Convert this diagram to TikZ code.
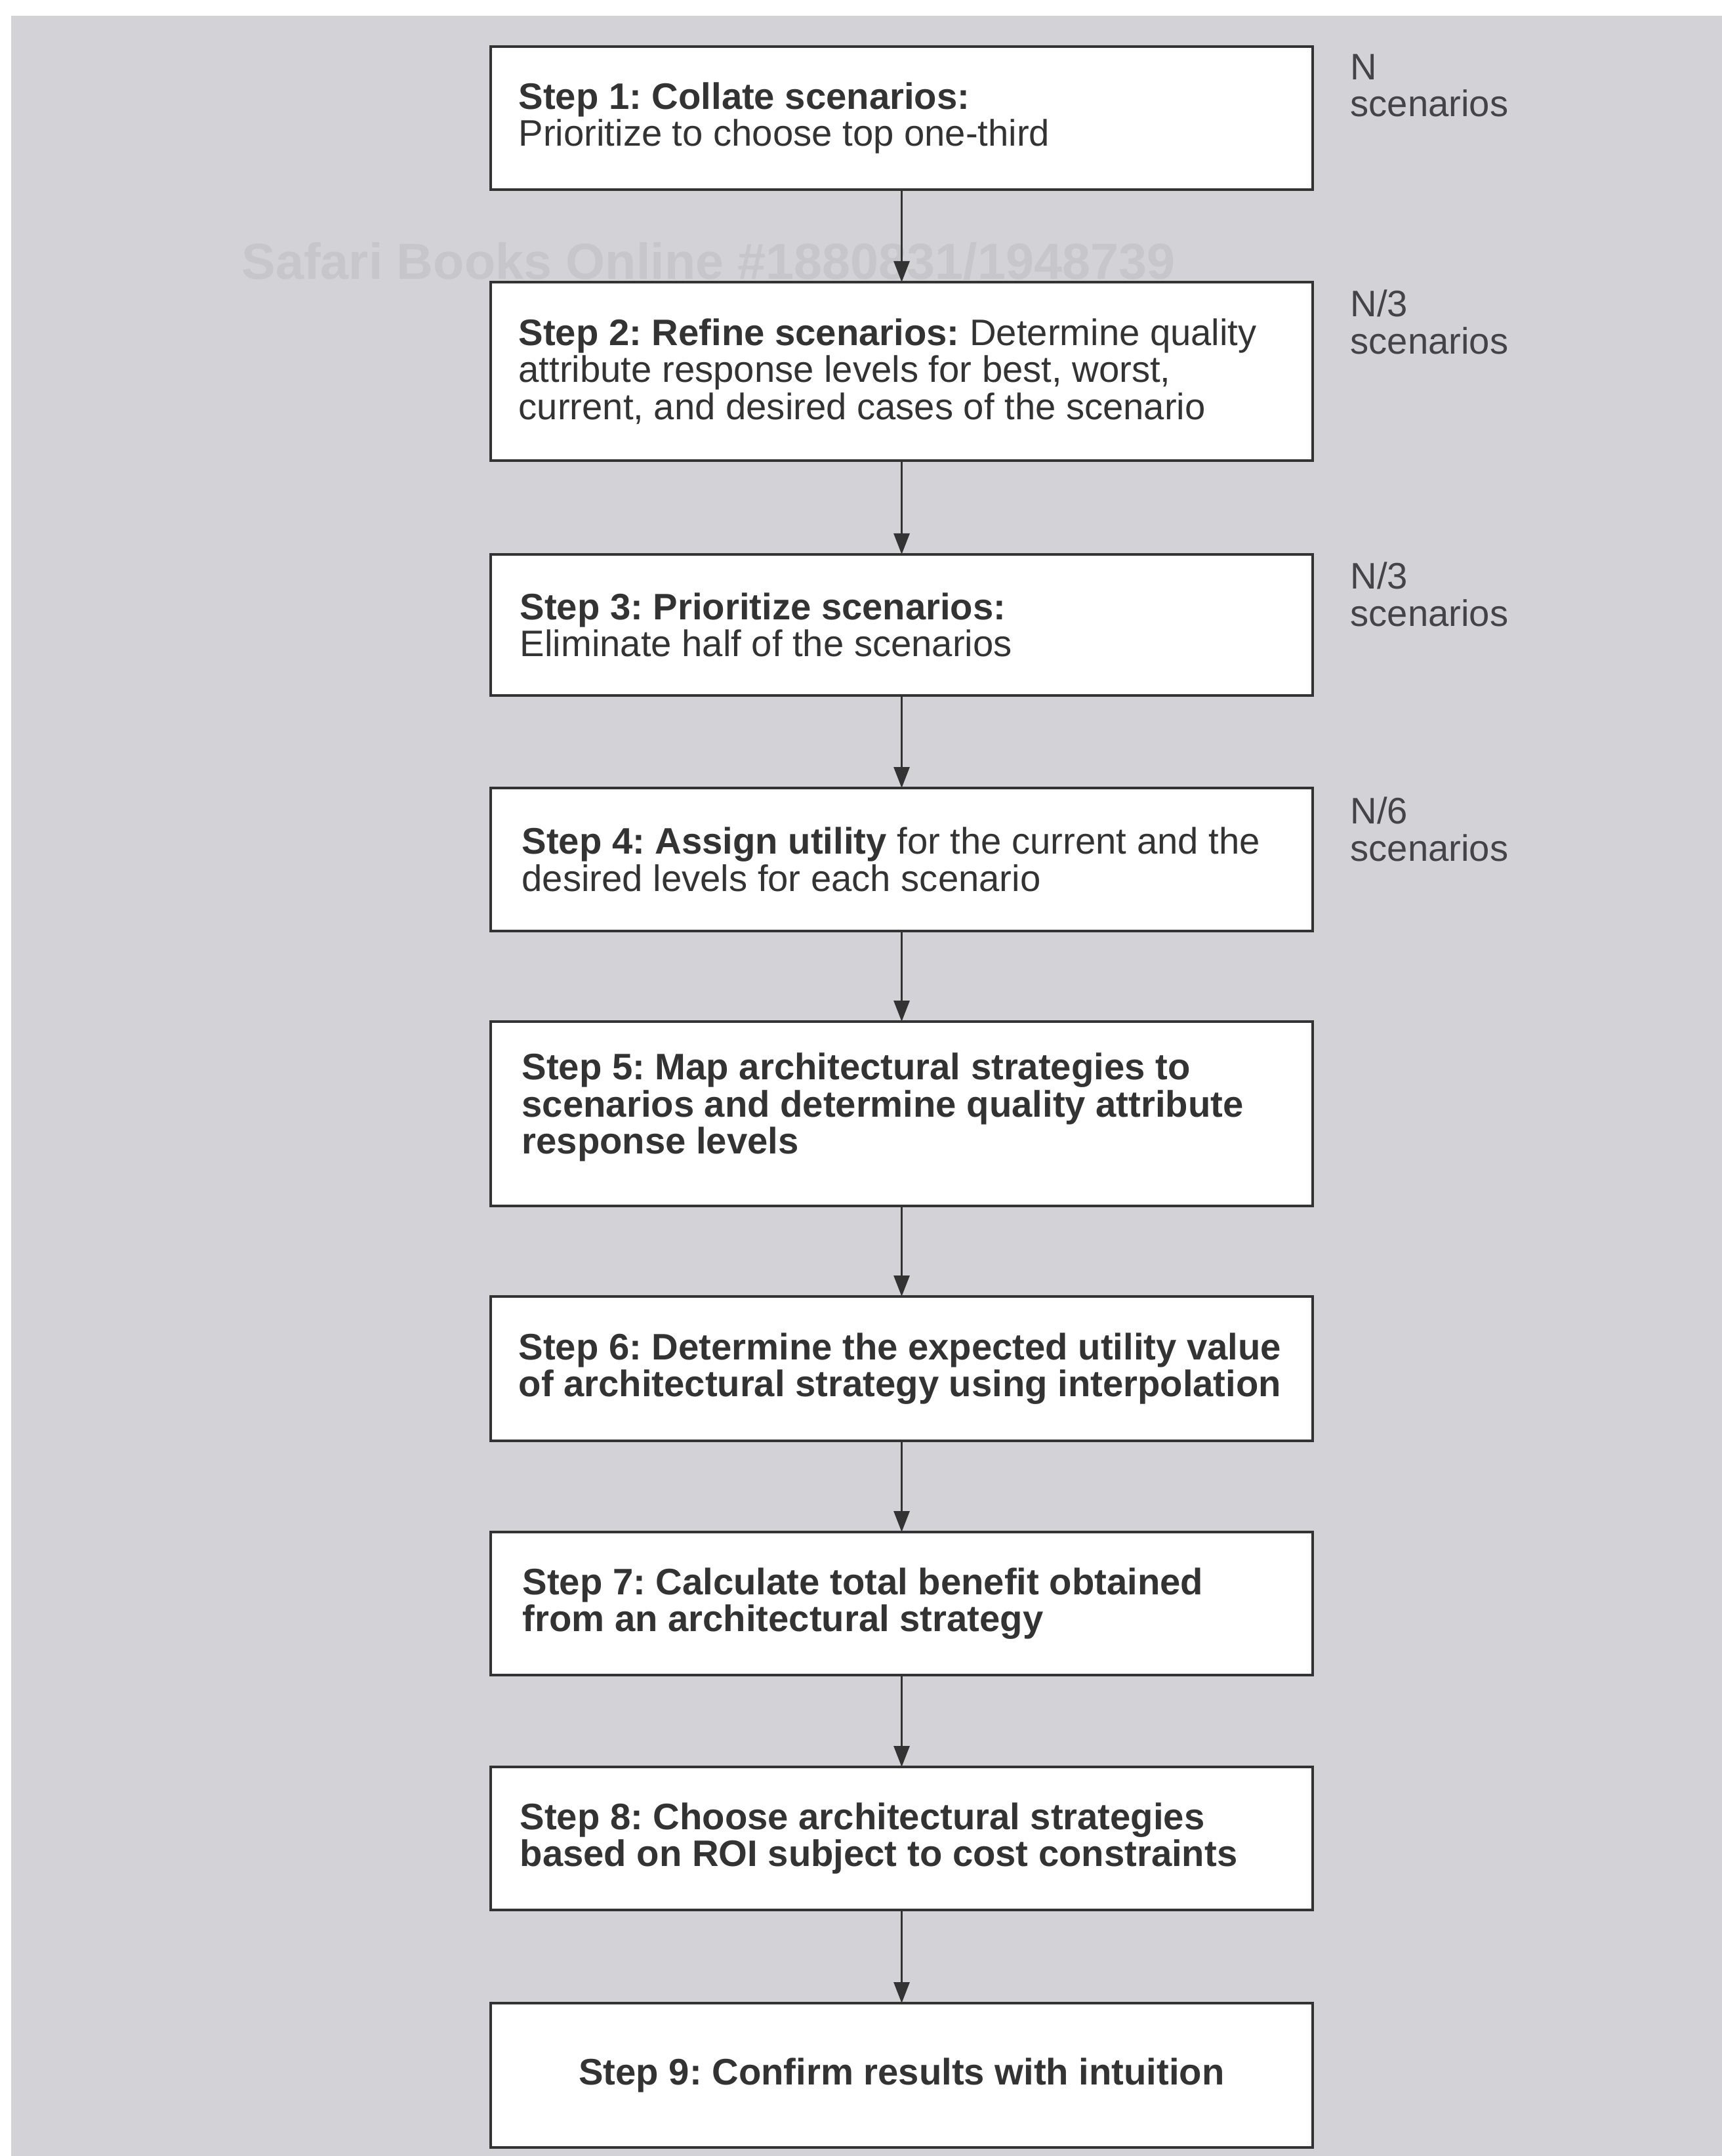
\documentclass[tikz,border=0pt]{standalone}
\usepackage{fontspec}
\setmainfont{Liberation Sans}
\usetikzlibrary{arrows.meta}
\frenchspacing
\definecolor{bggray}{HTML}{D3D3D7}
\definecolor{ink}{HTML}{333333}
\definecolor{lightink}{HTML}{444448}
\definecolor{wmark}{HTML}{C7C7CB}
\tikzset{
  stepbox/.style={draw=ink, line width=1.1pt, fill=white, minimum width=12.53cm, inner sep=0pt, outer sep=0pt},
  steptext/.style={anchor=west, align=left, inner sep=0pt, text=ink, font=\fontsize{16}{16.1}\selectfont},
  sidelabel/.style={anchor=north west, align=left, inner sep=0pt, text=lightink, font=\fontsize{16}{16.1}\selectfont},
  flow/.style={draw=ink, line width=0.85pt, -{Triangle[length=3.2mm,width=2.4mm]}}
}
\begin{document}
\begin{tikzpicture}
\useasboundingbox (0,0) rectangle (26.25,-32.86);
\fill[white] (0,0) rectangle (26.25,-32.86);
\fill[bggray] (0.17,-0.24) rectangle (26.25,-32.86);
\node[anchor=center, inner sep=0pt, text=wmark, font=\fontsize{22}{24}\selectfont\bfseries] (wm) at (10.80,-3.98) {Safari Books Online \#1880831/1948739};

\node[stepbox, minimum height=2.18cm] (b1) at (13.745,-1.80) {};
\node[stepbox, minimum height=2.72cm] (b2) at (13.745,-5.66) {};
\node[stepbox, minimum height=2.15cm] (b3) at (13.745,-9.525) {};
\node[stepbox, minimum height=2.18cm] (b4) at (13.745,-13.10) {};
\node[stepbox, minimum height=2.81cm] (b5) at (13.745,-16.975) {};
\node[stepbox, minimum height=2.20cm] (b6) at (13.745,-20.86) {};
\node[stepbox, minimum height=2.18cm] (b7) at (13.745,-24.44) {};
\node[stepbox, minimum height=2.18cm] (b8) at (13.745,-28.02) {};
\node[stepbox, minimum height=2.20cm] (b9) at (13.745,-31.63) {};

\node[steptext] (t1) at ([xshift=0.42cm]b1.west) {\textbf{Step 1: Collate scenarios:}\\Prioritize to choose top one-third};
\node[steptext] (t2) at ([xshift=0.42cm]b2.west) {\textbf{Step 2: Refine scenarios:} Determine quality\\attribute response levels for best, worst,\\current, and desired cases of the scenario};
\node[steptext] (t3) at ([xshift=0.44cm]b3.west) {\textbf{Step 3: Prioritize scenarios:}\\Eliminate half of the scenarios};
\node[steptext] (t4) at ([xshift=0.47cm]b4.west) {\textbf{Step 4: Assign utility} for the current and the\\desired levels for each scenario};
\node[steptext, font=\fontsize{16}{16.1}\selectfont\bfseries] (t5) at ([xshift=0.47cm,yshift=0.1cm]b5.west) {Step 5: Map architectural strategies to\\scenarios and determine quality attribute\\response levels};
\node[steptext, font=\fontsize{16}{16.1}\selectfont\bfseries] (t6) at ([xshift=0.42cm]b6.west) {Step 6: Determine the expected utility value\\of architectural strategy using interpolation};
\node[steptext, font=\fontsize{16}{16.1}\selectfont\bfseries] (t7) at ([xshift=0.48cm]b7.west) {Step 7: Calculate total benefit obtained\\from an architectural strategy};
\node[steptext, font=\fontsize{16}{16.1}\selectfont\bfseries] (t8) at ([xshift=0.44cm]b8.west) {Step 8: Choose architectural strategies\\based on ROI subject to cost constraints};
\node[steptext, anchor=center, font=\fontsize{16}{16.1}\selectfont\bfseries] (t9) at (b9.center) {Step 9: Confirm results with intuition};

\node[sidelabel] (l1) at (20.58,-0.82) {N\\scenarios};
\node[sidelabel] (l2) at (20.58,-4.41) {N/3\\scenarios};
\node[sidelabel] (l3) at (20.58,-8.56) {N/3\\scenarios};
\node[sidelabel] (l4) at (20.58,-12.14) {N/6\\scenarios};

\draw[flow] (b1.south) -- (b2.north);
\draw[flow] (b2.south) -- (b3.north);
\draw[flow] (b3.south) -- (b4.north);
\draw[flow] (b4.south) -- (b5.north);
\draw[flow] (b5.south) -- (b6.north);
\draw[flow] (b6.south) -- (b7.north);
\draw[flow] (b7.south) -- (b8.north);
\draw[flow] (b8.south) -- (b9.north);
\end{tikzpicture}
\end{document}
